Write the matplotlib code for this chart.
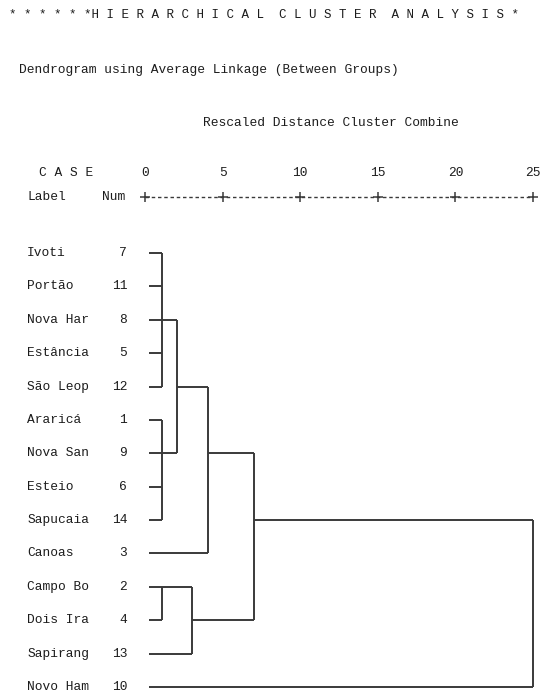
import matplotlib
matplotlib.use("Agg")
import matplotlib.pyplot as plt

# --------------------------------------------------
# Data
# --------------------------------------------------

case_labels = ["Ivoti", "Portão", "Nova Har", "Estância", "São Leop",
               "Araricá", "Nova San", "Esteio", "Sapucaia", "Canoas",
               "Campo Bo", "Dois Ira", "Sapirang", "Novo Ham"]
case_nums = [7, 11, 8, 5, 12, 1, 9, 6, 14, 3, 2, 4, 13, 10]

# merges: children are row indices (leaves) or 14 + merge index
merge_children = [[0, 1, 2, 3, 4], [5, 6, 7, 8], [14, 15], [16, 9],
                  [10, 11], [18, 12], [17, 19], [20, 13]]
merge_dist = [1.1, 1.1, 2.05, 4.05, 1.1, 3.0, 7.0, 25.0]

ticks = [0, 5, 10, 15, 20, 25]

# --------------------------------------------------
# Figure (one axes over the whole canvas)
# --------------------------------------------------

W, H = 546, 698
fig = plt.figure(figsize=(W / 100, H / 100), dpi=100)
ax = fig.add_axes([0, 0, 1, 1])

px_per_unit = 15.52
px_per_row = 33.38
x0_px, y0_px = 145, 253

ax.set_xlim(-x0_px / px_per_unit, (W - x0_px) / px_per_unit)
ax.set_ylim((H - y0_px) / px_per_row, -y0_px / px_per_row)
ax.axis("off")

font = dict(family=["Liberation Mono", "DejaVu Sans Mono"], fontsize=9.3,
            color="#1c1c1c")
line_kw = dict(color="#3a3a3a", linewidth=1.4, solid_capstyle="butt")

leaf_start = 0.25

# --------------------------------------------------
# Header text
# --------------------------------------------------

title_font = dict(font, fontsize=9.0)
ax.text(-8.75, -7.13,
        "* * * * * *H I E R A R C H I C A L  C L U S T E R  A N A L Y S I S *",
        ha="left", va="center", **title_font)
ax.text(-8.15, -5.48, "Dendrogram using Average Linkage (Between Groups)",
        ha="left", va="center", **font)
ax.text(3.75, -3.89, "Rescaled Distance Cluster Combine",
        ha="left", va="center", **font)

ax.text(-6.8, -2.40, "C A S E", ha="left", va="center", **font)
ax.text(-7.6, -1.68, "Label", ha="left", va="center", **font)
ax.text(-2.75, -1.68, "Num", ha="left", va="center", **font)

for t in ticks:
    ax.text(t, -2.40, str(t), ha="center", va="center", **font)

# ruler
ax.plot([ticks[0], ticks[-1]], [-1.68, -1.68], color="#3a3a3a",
        linewidth=1.0, linestyle=(0, (2.5, 2.0)))
ax.plot(ticks, [-1.68] * len(ticks), linestyle="none", marker="+",
        markersize=7, markeredgewidth=1.1, color="#3a3a3a")

# --------------------------------------------------
# Case rows
# --------------------------------------------------

for row, (label, num) in enumerate(zip(case_labels, case_nums)):
    ax.text(-7.6, row, label, ha="left", va="center", **font)
    ax.text(-1.15, row, str(num), ha="right", va="center", **font)

# --------------------------------------------------
# Dendrogram
# --------------------------------------------------

pos = {i: (leaf_start, i) for i in range(len(case_labels))}

for k, (children, d) in enumerate(zip(merge_children, merge_dist)):
    rows = [pos[c][1] for c in children]
    for c in children:
        cx, cy = pos[c]
        ax.plot([cx, d], [cy, cy], **line_kw)
    ax.plot([d, d], [min(rows), max(rows)], **line_kw)
    pos[len(case_labels) + k] = (d, (min(rows) + max(rows)) // 2)

fig.savefig("out.png", dpi=100)
